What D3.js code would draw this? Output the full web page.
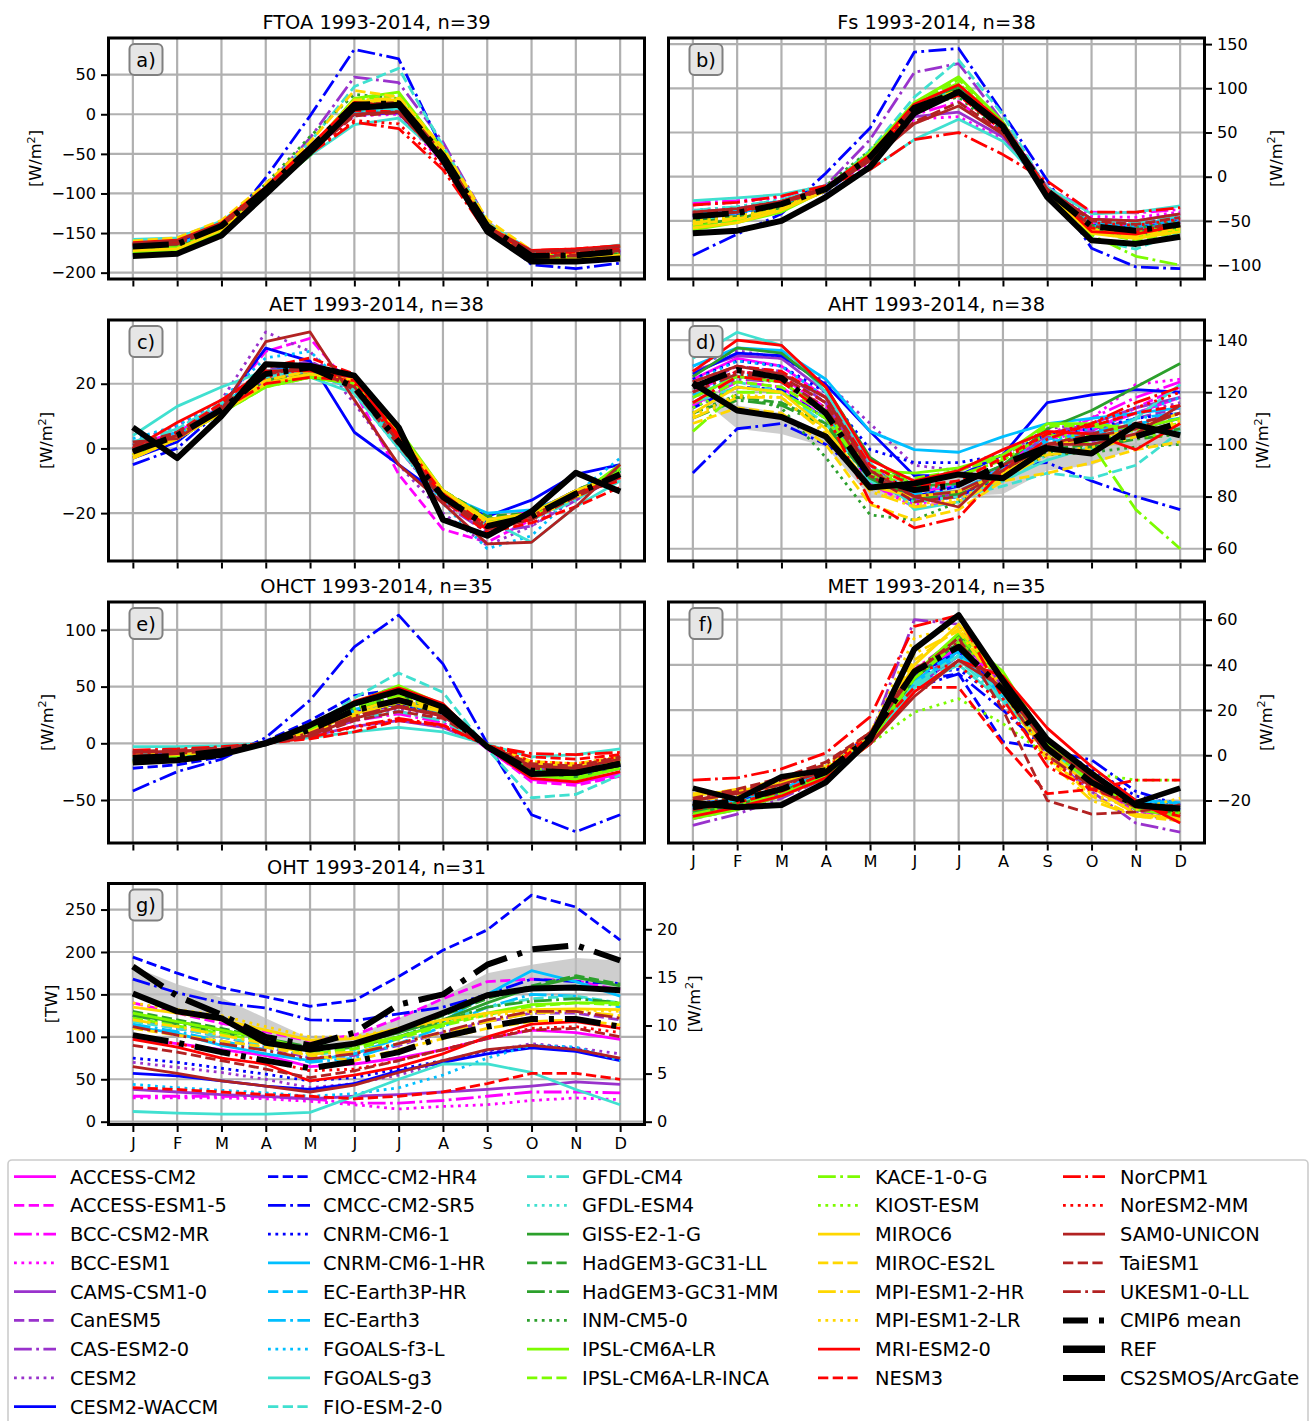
<!DOCTYPE html>
<html>
<head>
<meta charset="utf-8">
<script src="https://cdn.jsdelivr.net/npm/d3@7"></script>
<style>
  body { margin: 0; background: #fff; }
  svg { display: block; font-family: "DejaVu Sans", sans-serif; }
</style>
</head>
<body>
<svg id="fig" width="1312" height="1421"></svg>
<script>
// ---------------------------------------------------------------------------
// Data: Arctic energy-budget seasonal cycles, 1993-2014 climatology
// ---------------------------------------------------------------------------
const months = ["J","F","M","A","M","J","J","A","S","O","N","D"];

const models = [
  "ACCESS-CM2","ACCESS-ESM1-5","BCC-CSM2-MR","BCC-ESM1",
  "CAMS-CSM1-0","CanESM5","CAS-ESM2-0","CESM2",
  "CESM2-WACCM","CMCC-CM2-HR4","CMCC-CM2-SR5","CNRM-CM6-1",
  "CNRM-CM6-1-HR","EC-Earth3P-HR","EC-Earth3","FGOALS-f3-L",
  "FGOALS-g3","FIO-ESM-2-0","GFDL-CM4","GFDL-ESM4",
  "GISS-E2-1-G","HadGEM3-GC31-LL","HadGEM3-GC31-MM","INM-CM5-0",
  "IPSL-CM6A-LR","IPSL-CM6A-LR-INCA","KACE-1-0-G","KIOST-ESM",
  "MIROC6","MIROC-ES2L","MPI-ESM1-2-HR","MPI-ESM1-2-LR",
  "MRI-ESM2-0","NESM3","NorCPM1","NorESM2-MM",
  "SAM0-UNICON","TaiESM1","UKESM1-0-LL"
];
const extraLabels = ["CMIP6 mean", "REF", "CS2SMOS/ArcGate"];

// Net TOA flux [W/m2], one row per model (null = not available)
const ftoa = [
  [-165,-162,-140,-97,-47,2,5,-58,-145,-178,-177,-172],
  [-163,-160,-138,-95,-45,8,10,-52,-140,-176,-176,-170],
  [-168,-165,-142,-98,-48,0,2,-60,-146,-180,-180,-174],
  [-166,-163,-141,-97,-47,-2,0,-62,-147,-179,-178,-173],
  [-170,-167,-145,-100,-50,5,8,-55,-143,-182,-181,-176],
  [-164,-161,-139,-94,-42,15,18,-48,-138,-177,-176,-171],
  [-172,-168,-143,-92,-30,47,40,-35,-135,-183,-183,-178],
  [-165,-162,-140,-95,-44,10,12,-50,-140,-178,-177,-172],
  [-166,-163,-141,-96,-46,0,2,-58,-144,-179,-178,-173],
  [-170,-167,-145,-98,-48,3,6,-55,-142,-182,-182,-177],
  [-178,-176,-150,-80,-2,82,70,-45,-140,-190,-195,-188],
  [-167,-164,-141,-96,-44,5,8,-55,-143,-180,-180,-174],
  [-168,-165,-142,-97,-46,3,6,-56,-144,-181,-180,-175],
  [-163,-160,-137,-94,-44,8,10,-52,-140,-176,-175,-169],
  [-164,-161,-138,-95,-45,6,8,-54,-141,-177,-176,-170],
  [-162,-159,-137,-93,-42,10,12,-50,-139,-175,-174,-168],
  [-158,-156,-135,-95,-52,-13,-5,-55,-138,-172,-172,-165],
  [-166,-163,-140,-92,-35,35,58,-40,-136,-179,-180,-173],
  [-160,-157,-136,-93,-43,5,8,-52,-139,-174,-173,-167],
  [-161,-158,-137,-94,-44,3,6,-54,-140,-175,-174,-168],
  [-172,-169,-146,-100,-52,10,15,-50,-142,-183,-183,-178],
  [-170,-167,-144,-97,-47,12,16,-50,-141,-182,-181,-176],
  [-169,-166,-143,-96,-46,14,18,-48,-140,-181,-180,-175],
  [-166,-163,-138,-88,-28,25,20,-50,-142,-180,-180,-174],
  [-175,-172,-148,-99,-45,20,28,-45,-141,-184,-185,-180],
  [-174,-171,-147,-98,-44,18,24,-46,-141,-184,-184,-179],
  [-170,-168,-145,-97,-46,15,20,-48,-141,-182,-182,-177],
  [-165,-162,-140,-95,-45,12,15,-50,-140,-178,-178,-172],
  [-172,-170,-146,-98,-45,16,18,-48,-140,-183,-183,-178],
  [-160,-156,-134,-88,-35,30,22,-42,-133,-172,-172,-166],
  [-165,-162,-139,-94,-43,18,20,-47,-138,-178,-177,-172],
  [-164,-161,-138,-93,-42,16,18,-48,-137,-177,-176,-171],
  [-162,-159,-137,-92,-40,15,10,-55,-142,-172,-170,-166],
  [-166,-163,-140,-96,-46,5,3,-58,-145,-175,-174,-170],
  [-164,-161,-140,-98,-50,-10,-18,-70,-150,-172,-170,-166],
  [-165,-162,-141,-97,-48,-8,-12,-65,-148,-176,-175,-170],
  [-163,-160,-138,-95,-47,0,3,-56,-143,-173,-172,-167],
  [-164,-161,-139,-96,-48,-2,2,-58,-145,-178,-178,-172],
  [-167,-164,-141,-96,-46,12,15,-50,-141,-180,-179,-174]
];
const ftoaMean = [-167,-164,-141,-95,-43,12,14,-52,-141,-179,-178,-173];
const ftoaRef  = [-179,-176,-153,-101,-48,8,12,-58,-148,-186,-186,-182];

// Net surface flux [W/m2]
const fs = [
  [-40,-36,-28,-14,22,75,98,55,-18,-52,-55,-48],
  [-42,-38,-30,-15,20,78,100,56,-17,-54,-57,-50],
  [-30,-27,-22,-10,18,70,85,48,-12,-40,-41,-37],
  [-32,-29,-23,-12,15,65,68,42,-15,-45,-46,-40],
  [-45,-40,-30,-14,20,68,73,45,-15,-48,-50,-42],
  [-48,-43,-33,-16,22,80,102,57,-18,-58,-62,-55],
  [-50,-45,-35,-10,42,118,128,62,-12,-60,-64,-56],
  [-44,-40,-30,-14,25,82,98,56,-17,-55,-58,-50],
  [-46,-41,-31,-15,24,80,96,55,-16,-57,-60,-52],
  [-50,-44,-34,-17,20,76,93,52,-18,-62,-66,-58],
  [-89,-65,-42,4,55,141,145,72,-4,-81,-102,-104],
  [-44,-40,-30,-14,22,78,95,54,-16,-55,-58,-50],
  [-45,-41,-31,-15,23,79,96,55,-17,-56,-59,-51],
  [-40,-36,-27,-12,25,82,100,57,-15,-52,-55,-46],
  [-42,-38,-28,-13,24,80,98,56,-16,-54,-56,-48],
  [-38,-34,-26,-12,26,84,99,57,-15,-50,-53,-44],
  [-27,-24,-20,-10,8,42,65,40,-12,-42,-40,-33],
  [-50,-46,-36,-14,30,90,132,70,-15,-70,-82,-62],
  [-38,-34,-26,-12,20,80,98,56,-14,-50,-52,-44],
  null,
  [-55,-48,-35,-15,25,82,103,60,-18,-60,-64,-58],
  [-52,-46,-36,-16,22,78,96,56,-18,-60,-63,-55],
  [-50,-45,-35,-15,24,80,100,57,-17,-58,-62,-54],
  [-44,-40,-30,-10,30,80,90,50,-18,-55,-58,-50],
  [-60,-52,-40,-15,28,84,113,62,-20,-62,-68,-60],
  [-58,-50,-38,-14,27,82,110,60,-19,-62,-72,-62],
  [-56,-50,-38,-14,26,82,106,58,-18,-66,-90,-100],
  [-50,-45,-34,-15,24,78,98,56,-17,-58,-62,-55],
  [-58,-52,-38,-16,22,78,96,56,-19,-64,-70,-62],
  [-54,-48,-36,-15,24,80,98,57,-18,-60,-66,-58],
  [-52,-47,-36,-16,22,78,94,55,-18,-62,-68,-60],
  [-50,-45,-34,-15,23,78,95,55,-17,-60,-65,-57],
  [-45,-40,-28,-12,25,82,104,60,-14,-62,-65,-55],
  [-42,-38,-30,-14,20,76,92,52,-16,-58,-62,-52],
  [-32,-29,-22,-10,8,42,50,25,-5,-40,-40,-35],
  [-40,-36,-28,-13,22,78,94,55,-15,-52,-55,-48],
  [-40,-36,-28,-14,18,60,80,48,-14,-48,-50,-42],
  [-42,-38,-28,-13,20,62,84,50,-15,-50,-54,-46],
  [-44,-40,-30,-14,22,78,96,56,-17,-56,-60,-52]
];
const fsMean = [-45,-41,-31,-14,22,78,96,55,-16,-56,-61,-54];
const fsRef  = [-64,-61,-50,-23,11,72,96,57,-23,-72,-76,-68];

// Atmospheric energy tendency [W/m2]
const aet = [
  [1,5,13,23,24,18,2,-15,-24,-20,-14,-8],
  [0,4,13,30,34,18,-8,-25,-29,-22,-14,-8],
  [-1,4,12,22,24,20,3,-14,-23,-19,-14,-9],
  [0,5,13,22,25,19,2,-16,-25,-21,-15,-9],
  [-2,3,11,21,24,20,4,-13,-22,-21,-15,-9],
  [-1,4,13,24,27,20,2,-16,-24,-22,-15,-8],
  [-1,4,12,22,25,18,0,-17,-26,-24,-16,-8],
  [2,7,15,36,30,14,-5,-20,-30,-24,-14,-6],
  [-3,2,13,31,27,5,-5,-15,-21,-16,-8,-5],
  [-3,3,12,23,25,19,3,-15,-24,-21,-14,-8],
  [-5,0,12,24,25,20,4,-14,-23,-20,-13,-7],
  [-2,3,12,23,25,19,3,-14,-23,-20,-14,-8],
  [-1,4,13,24,25,19,3,-14,-20,-19,-14,-7],
  [0,5,13,23,24,19,3,-15,-22,-20,-14,-7],
  [1,5,14,23,24,18,2,-15,-23,-21,-14,-7],
  [3,7,15,28,30,17,0,-17,-31,-27,-14,-3],
  [4,13,19,24,22,17,0,-16,-22,-29,-18,-10],
  [1,6,14,23,24,18,1,-16,-24,-22,-15,-8],
  [2,6,14,22,24,18,2,-15,-23,-22,-16,-7],
  null,
  [-2,3,11,20,22,20,5,-14,-22,-20,-14,-6],
  [-1,4,12,21,23,20,4,-13,-21,-20,-13,-7],
  [0,4,12,21,23,20,4,-13,-22,-20,-14,-7],
  [-1,4,12,21,23,20,3,-13,-22,-20,-14,-6],
  [-2,3,11,19,22,21,6,-13,-22,-21,-15,-5],
  [-2,3,11,19,22,20,5,-13,-22,-21,-15,-6],
  [-1,3,11,20,22,20,5,-14,-23,-21,-14,-7],
  [-2,4,12,20,23,20,4,-14,-23,-21,-14,-7],
  [-3,3,11,20,23,21,5,-13,-22,-20,-13,-8],
  [-2,3,12,21,24,21,5,-14,-23,-21,-14,-8],
  [-3,3,11,20,23,21,5,-14,-23,-22,-15,-9],
  [-2,4,12,21,24,20,4,-14,-23,-21,-14,-8],
  [0,8,15,24,24,22,3,-15,-25,-22,-14,-9],
  [0,5,14,25,28,23,3,-16,-26,-23,-18,-12],
  [-1,4,12,20,22,21,4,-14,-24,-22,-14,-10],
  [0,5,13,22,25,20,2,-16,-25,-21,-14,-9],
  [2,3,12,33,36,15,-5,-17,-29.5,-29,-18,-5],
  [1,5,13,23,26,18,1,-16,-25,-22,-15,-9],
  [0,4,12,23,25,19,2,-15,-24,-21,-14,-8]
];
const aetMean = [-1,4,12,23,25,19,2,-15,-24,-21,-14,-8];
const aetRef  = [6.5,-3,10,26,25.5,22.5,6.5,-22,-27,-19.5,-7.5,-13.3];

// Atmospheric heat transport convergence [W/m2]
const aht = [
  [125,133,130,118,90,82,84,92,104,106,112,118],
  [120,128,126,114,88,80,82,90,102,105,114,122],
  [115,124,122,110,85,76,78,88,102,110,118,124],
  [118,126,124,112,86,77,80,90,104,110,123,125],
  [128,134,133,120,92,80,80,90,104,108,114,118],
  [122,130,128,116,89,79,81,90,103,105,110,114],
  [116,125,124,113,87,78,80,89,100,101,108,112],
  [130,136,133,124,108,92,90,96,106,108,112,116],
  [127,135,134,123,105,88,88,96,116,119,121,120],
  [114,122,121,110,86,78,80,88,100,102,106,110],
  [89,106,108,100,86,80,84,92,93,86,80,75],
  [125,132,130,120,98,93,93,96,104,106,110,112],
  [130,137,136,125,105,98,97,103,108,110,112,114],
  [118,126,124,112,87,80,82,90,101,103,108,110],
  [119,127,125,113,88,81,82,91,102,104,110,112],
  [124,132,130,118,90,83,84,92,104,106,112,118],
  [133,143,138,120,93,75,78,86,94,99,110,123],
  [120,124,120,110,86,78,80,84,89,87,92,105],
  [116,122,120,108,86,78,80,86,96,98,104,106],
  null,
  [126,137,135,122,95,84,85,92,106,113,122,131],
  [112,118,116,108,88,80,82,88,98,100,103,106],
  [110,117,115,107,87,79,81,88,97,99,102,104],
  [112,119,114,95,73,71,78,88,96,97,99,100],
  [118,126,124,113,90,89,91,96,108,108,106,110],
  [116,124,122,112,89,87,90,95,107,107,105,108],
  [105,120,120,110,88,85,88,94,104,100,75,60],
  [114,122,120,110,88,86,88,94,104,103,103,104],
  [112,122,120,106,84,80,82,89,100,102,106,112],
  [108,114,112,100,77,71,75,86,89,93,98,101],
  [110,118,118,104,82,76,78,87,96,98,103,108],
  [111,119,118,105,83,77,79,88,97,99,104,109],
  [128,140,138,122,94,86,90,98,105,104,98,108],
  [124,130,128,118,92,84,86,95,104,107,112,115],
  [116,126,124,112,78,68,72,90,102,108,116,122],
  [120,128,126,116,90,82,86,94,104,108,114,120],
  [124,130,127,118,90,80,76,92,100,100,104,115],
  [122,128,126,116,88,78,80,90,100,104,108,112],
  [120,127,125,114,88,80,82,90,100,103,106,112]
];
const ahtMean  = [122,128.5,125.5,112,87.5,82.5,84.5,92.5,99,102.5,103,108.5];
const ahtRef   = [123.5,113,110.5,103,83.5,85,88.5,87,98.5,96.5,107.5,103.5];
const ahtRefLo = [120,106,104,99,80,80,80,81,90,92,99,100];
const ahtRefHi = [125,115,112,104,86,87,90,90,101,104,109,107];

// Ocean heat content tendency [W/m2]
const ohct = [
  [-12,-10,-7,0,10,28,40,25,-5,-32,-35,-27],
  [-15,-12,-8,0,12,30,42,28,-4,-34,-37,-29],
  [-10,-8,-5,0,8,20,26,18,-3,-25,-28,-22],
  null,
  [-10,-8,-6,0,6,15,20,14,-2,-20,-22,-18],
  [-14,-11,-8,0,11,26,34,24,-4,-28,-30,-22],
  [-10,-8,-6,0,8,20,28,20,-3,-22,-24,-18],
  [-12,-10,-7,0,10,24,30,22,-3,-26,-28,-20],
  [-13,-10,-7,0,11,27,35,26,-4,-27,-28,-20],
  [-22,-19,-12,2,20,42,48,30,-4,-28,-30,-22],
  [-42,-25,-14,5,38,85,113,70,0,-63,-78,-63],
  [-15,-12,-8,0,12,29,37,27,-3,-25,-26,-20],
  [-14,-11,-8,0,12,30,38,28,-3,-26,-28,-20],
  [-13,-11,-7,0,11,28,36,26,-3,-24,-26,-18],
  [-14,-11,-8,0,12,29,37,27,-3,-25,-27,-19],
  null,
  [-3,-3,-2,0,5,10,14,10,-1,-12,-10,-5],
  [-18,-14,-9,0,14,40,62,45,-5,-48,-45,-28],
  [-10,-8,-6,0,9,22,28,20,-3,-20,-22,-16],
  null,
  [-16,-13,-9,0,14,34,46,32,-4,-28,-30,-22],
  [-15,-12,-8,0,12,32,42,30,-3,-24,-26,-18],
  [-14,-11,-8,0,11,30,40,28,-3,-23,-25,-17],
  null,
  [-18,-14,-9,0,15,36,51,34,-4,-28,-32,-22],
  [-17,-13,-9,0,14,35,48,33,-4,-27,-30,-21],
  [-15,-12,-8,0,12,31,42,30,-3,-25,-27,-19],
  [-12,-10,-7,0,10,25,34,25,-3,-22,-24,-17],
  [-12,-10,-7,0,10,26,36,28,-2,-18,-20,-14],
  [-10,-8,-6,0,9,24,38,30,-1,-16,-18,-12],
  [-12,-9,-7,0,10,28,40,30,-2,-20,-22,-15],
  [-11,-9,-6,0,9,27,38,29,-2,-19,-21,-14],
  [-17,-14,-9,0,15,37,49,35,-4,-31,-34,-25],
  [-8,-6,-4,0,4,10,20,16,-2,-12,-14,-10],
  [-6,-5,-3,0,5,15,22,16,-2,-9,-10,-8],
  [-9,-8,-5,0,6,14,21,15,-2,-16,-18,-12],
  [-8,-7,-5,0,7,22,32,24,-2,-20,-22,-14],
  [-7,-6,-4,0,6,20,28,22,-2,-18,-20,-12],
  [-11,-9,-6,0,9,24,33,25,-3,-22,-24,-17]
];
const ohctMean = [-13,-11,-7,0,12,29,38,28,-3,-24,-26,-18];
const ohctRef  = [-17,-15,-10,0,16,35,46,32,-3,-27,-26,-18];

// Melt energy tendency [W/m2]
const met = [
  [-26,-22,-17,-9,6,34,48,30,2,-14,-24,-27],
  [-25,-21,-16,-8,7,36,50,31,3,-13,-24,-26],
  [-24,-20,-15,-8,8,38,52,30,2,-14,-25,-26],
  null,
  [-27,-23,-17,-9,5,30,44,30,3,-12,-24,-27],
  [-28,-24,-18,-10,6,32,46,31,2,-14,-26,-29],
  [-31,-26,-19,-10,8,60,58,30,0,-16,-30,-34],
  [-26,-22,-16,-8,7,36,50,32,3,-13,-25,-28],
  [-23,-20,-15,-8,8,35,46,28,4,-10,-22,-24],
  [-22,-19,-14,-7,9,33,36,6,3,-8,-20,-24],
  [-24,-20,-15,-7,10,30,36,20,2,-2,-16,-22],
  [-21,-18,-14,-6,10,36,38,24,5,-6,-18,-22],
  [-23,-19,-15,-8,8,32,44,26,3,-10,-20,-21],
  [-22,-19,-15,-7,9,34,46,27,3,-10,-21,-22],
  [-23,-20,-15,-7,9,33,45,27,3,-11,-22,-23],
  null,
  [-24,-21,-16,-9,6,30,40,24,2,-12,-22,-24],
  [-25,-22,-16,-8,7,32,44,27,3,-12,-23,-25],
  [-24,-21,-16,-8,7,31,42,25,2,-12,-22,-24],
  null,
  [-25,-22,-16,-9,6,34,50,36,6,-10,-22,-26],
  [-26,-22,-17,-9,6,36,52,36,5,-11,-23,-26],
  [-25,-21,-16,-8,7,37,53,35,5,-11,-22,-25],
  null,
  [-28,-24,-18,-10,5,36,54,37,6,-10,-24,-27],
  [-27,-23,-17,-9,6,35,52,36,5,-11,-23,-26],
  [-26,-22,-17,-9,6,34,50,34,4,-12,-23,-25],
  [-22,-19,-13,-5,5,19,25,14,0,-8,-11,-11],
  [-17,-16,-12,-6,8,40,58,35,2,-14,-26,-28],
  [-20,-18,-13,-5,10,42,56,33,0,-18,-27,-29],
  [-18,-15,-11,-4,10,45,55,28,-2,-20,-27,-28],
  [-19,-17,-12,-5,9,52,57,30,-1,-17,-24,-19],
  [-27,-23,-18,-10,5,28,42,35,12,-5,-20,-30],
  [-24,-21,-16,-8,9,30,30,5,-17,-15,-22,-27],
  [-11,-10,-6,1,17,57,62,25,-5,-15,-11,-11],
  [-22,-19,-14,-6,10,38,40,22,-2,-14,-22,-26],
  [-20,-17,-13,-7,5,26,42,30,4,-10,-22,-24],
  [-19,-15,-10,-3,10,36,52,20,-20,-26,-25,-22],
  [-20,-16,-11,-4,10,38,50,28,0,-14,-23,-22]
];
const metMean = [-23,-20,-15,-7.5,8,37,48,29,3,-12,-22,-24];
const metRef  = [-21,-23,-22,-12,7,47,62,33,7,-8,-22,-23.5];
const metObs  = [-14.5,-19.5,-9.5,-6.5,null,null,null,null,null,null,-21,-14.5];

// Ocean heat transport into the Arctic [TW]
const oht = [
  [98,92,85,78,65,68,75,85,98,108,105,97],
  [140,128,116,106,95,102,122,145,165,168,166,155],
  [30,30,30,29,27,22,22,25,30,35,35,34],
  [28,28,28,27,24,20,15,18,20,25,28,26],
  [38,35,32,30,27,30,32,35,38,42,47,44],
  [120,110,100,88,75,78,90,105,118,128,128,120],
  null,
  [70,64,58,50,40,45,55,70,82,92,87,80],
  [57,54,48,42,38,45,60,70,80,87,83,72],
  [194,175,158,147,136,143,171,202,226,267,253,214],
  [168,152,140,134,120,119,127,135,150,168,165,163],
  [75,70,63,56,48,52,62,72,84,90,86,73],
  [112,104,90,80,72,80,98,118,150,178,165,148],
  null,
  [115,106,95,85,70,75,92,112,135,150,148,135],
  [44,40,37,34,30,33,40,55,75,90,88,72],
  [12,10,9,9,11,30,50,68,68,58,38,20],
  [118,110,100,90,78,85,100,118,135,145,148,140],
  null,
  null,
  [125,118,108,98,85,92,105,120,140,158,170,160],
  [130,120,110,98,88,92,105,125,145,160,172,162],
  [125,115,105,95,82,88,100,118,135,142,145,140],
  null,
  [128,118,108,98,85,90,100,115,128,138,140,140],
  [122,113,104,94,80,86,98,113,126,136,140,138],
  null,
  null,
  [135,128,120,108,96,98,110,120,128,132,133,132],
  [110,102,95,88,78,72,85,98,110,118,120,114],
  [120,112,102,92,80,82,92,105,118,128,130,125],
  [140,132,125,112,100,100,110,118,125,130,132,130],
  [97,88,75,68,48,55,65,80,100,115,118,110],
  [40,38,35,32,30,27,30,35,45,57,57,50],
  null,
  [100,92,82,72,60,62,72,85,98,110,112,105],
  [65,57,48,42,35,43,58,72,85,90,85,75],
  [90,82,72,62,52,60,72,85,98,108,110,100],
  [112,102,92,84,74,80,92,106,120,130,130,122]
];
const ohtMean    = [102,93,82,72,63,71,82,100,112,121,121,112];
const ohtMeanAlt = [183,148,126,100,90,105,138,150,185,203,208,190];
const ohtRef     = [151,130,122,93,85,92,108,128,149,157,158,155];
const ohtRefHi   = [183,162,146,122,98,102,122,147,175,185,193,190];
const twPerWm2   = 11.34;   // TW corresponding to 1 W/m2 over the domain

// ---------------------------------------------------------------------------
// Styling
// ---------------------------------------------------------------------------
const palette = ["#ff00ff","#9932cc","#0000ff","#00bfff","#40e0d0",
                 "#2ca02c","#7cfc00","#ffd700","#ff0000","#b22222"];
const modelLW = 2.8;
const dashes = ["", "10.3,4.4", "17.8,4.4,2.8,4.4", "2.8,4.6"];
const meanDash = "36,11,5,11";
const styleOf = i => ({ color: palette[Math.floor(i / 4)], dash: dashes[i % 4] });

const FONT = "DejaVu Sans, sans-serif";
const boxW = 536, boxH = 241;
const colX = [108.5, 668.5];
const rowY = [38, 320, 602, 883.5];

const svg = d3.select("#fig");
svg.append("rect").attr("width", 1312).attr("height", 1421).attr("fill", "#fff");

const panels = [
  { key: "a", name: "FTOA", rows: ftoa, mean: ftoaMean, ref: ftoaRef,
    col: 0, row: 0, domain: [-208, 96.3], ticks: [-200,-150,-100,-50,0,50], side: "left", labelX: 35.5 },
  { key: "b", name: "Fs", rows: fs, mean: fsMean, ref: fsRef,
    col: 1, row: 0, domain: [-115.7, 156.9], ticks: [-100,-50,0,50,100,150], side: "right", labelX: 1276 },
  { key: "c", name: "AET", rows: aet, mean: aetMean, ref: aetRef,
    col: 0, row: 1, domain: [-34.8, 39.7], ticks: [-20,0,20], side: "left", labelX: 46.5 },
  { key: "d", name: "AHT", rows: aht, mean: ahtMean, ref: ahtRef, band: [ahtRefLo, ahtRefHi],
    col: 1, row: 1, domain: [55.3, 147.7], ticks: [60,80,100,120,140], side: "right", labelX: 1262.5 },
  { key: "e", name: "OHCT", rows: ohct, mean: ohctMean, ref: ohctRef,
    col: 0, row: 2, domain: [-87.9, 124.6], ticks: [-50,0,50,100], side: "left", labelX: 47 },
  { key: "f", name: "MET", rows: met, mean: metMean, ref: metRef, obs: metObs,
    col: 1, row: 2, domain: [-38.8, 67.8], ticks: [-20,0,20,40,60], side: "right", labelX: 1266, monthLabels: true },
  { key: "g", name: "OHT", rows: oht, mean: ohtMean, meanAlt: ohtMeanAlt, ref: ohtRef, band: [ohtRef, ohtRefHi],
    col: 0, row: 3, domain: [-3.3, 280.7], ticks: [0,50,100,150,200,250], side: "left", labelX: 51.5,
    unit: "TW", monthLabels: true, rightTicks: [0,5,10,15,20], rightLabelX: 694 }
];

function unitLabel(sel, unit) {
  if (unit === "TW") { sel.text("[TW]"); return; }
  sel.append("tspan").text("[W/m");
  sel.append("tspan").attr("font-size", 11.3).attr("dy", -6.5).text("2");
  sel.append("tspan").attr("font-size", 16.2).attr("dy", 6.5).text("]");
}

function styleAxis(g) {
  g.attr("font-family", FONT).attr("font-size", 16.2);
  g.select(".domain").remove();
  g.selectAll(".tick line").attr("stroke", "#000").attr("stroke-width", 2);
  g.selectAll(".tick text").attr("fill", "#000");
}

panels.forEach(p => {
  const x0 = colX[p.col], y0 = rowY[p.row];
  const x = d3.scaleLinear().domain([-0.55, 11.55]).range([x0, x0 + boxW]);
  const y = d3.scaleLinear().domain(p.domain).range([y0 + boxH, y0]);
  const g = svg.append("g");

  const clipId = "clip-" + p.key;
  g.append("clipPath").attr("id", clipId)
    .append("rect").attr("x", x0).attr("y", y0).attr("width", boxW).attr("height", boxH);
  const plot = g.append("g").attr("clip-path", `url(#${clipId})`);

  // grid
  plot.selectAll(".gx").data(d3.range(12)).join("line")
    .attr("x1", d => x(d)).attr("x2", d => x(d)).attr("y1", y0).attr("y2", y0 + boxH)
    .attr("stroke", "#b0b0b0").attr("stroke-width", 2.2);
  plot.selectAll(".gy").data(p.ticks).join("line")
    .attr("x1", x0).attr("x2", x0 + boxW).attr("y1", d => y(d)).attr("y2", d => y(d))
    .attr("stroke", "#b0b0b0").attr("stroke-width", 2.2);

  // reference spread
  if (p.band) {
    const area = d3.area().x((d, i) => x(i)).y0((d, i) => y(p.band[0][i])).y1(d => y(d));
    plot.append("path").datum(p.band[1]).attr("d", area)
      .attr("fill", "#bdbdbd").attr("fill-opacity", 0.75);
  }

  const line = d3.line().defined(d => d != null).x((d, i) => x(i)).y(d => y(d));

  // individual models
  p.rows.forEach((r, i) => {
    if (!r) return;
    const s = styleOf(i);
    plot.append("path").datum(r).attr("d", line)
      .attr("fill", "none").attr("stroke", s.color).attr("stroke-width", modelLW)
      .attr("stroke-dasharray", s.dash || null).attr("stroke-linejoin", "round");
  });

  // ensemble mean and observational references
  const black = (data, w, dash) => plot.append("path").datum(data).attr("d", line)
    .attr("fill", "none").attr("stroke", "#000").attr("stroke-width", w)
    .attr("stroke-dasharray", dash || null).attr("stroke-linejoin", "round");
  if (p.meanAlt) black(p.meanAlt, 6, meanDash);
  black(p.ref, 6);
  if (p.obs) black(p.obs, 5.5);
  black(p.mean, 6, meanDash);

  // frame
  g.append("rect").attr("x", x0).attr("y", y0).attr("width", boxW).attr("height", boxH)
    .attr("fill", "none").attr("stroke", "#000").attr("stroke-width", 3);

  // x axis
  const xa = g.append("g").attr("transform", `translate(0,${y0 + boxH + 1.5})`)
    .call(d3.axisBottom(x).tickValues(d3.range(12)).tickSize(6).tickPadding(5)
      .tickFormat(i => p.monthLabels ? months[i] : ""));
  styleAxis(xa);

  // y axis
  if (p.side === "left") {
    const ya = g.append("g").attr("transform", `translate(${x0 - 1.5},0)`)
      .call(d3.axisLeft(y).tickValues(p.ticks).tickSize(6).tickPadding(5).tickFormat(d3.format("d")));
    styleAxis(ya);
  } else {
    const ya = g.append("g").attr("transform", `translate(${x0 + boxW + 1.5},0)`)
      .call(d3.axisRight(y).tickValues(p.ticks).tickSize(6).tickPadding(5).tickFormat(d3.format("d")));
    styleAxis(ya);
  }
  const yl = g.append("text")
    .attr("transform", `translate(${p.labelX},${y0 + boxH / 2}) rotate(-90)`)
    .attr("text-anchor", "middle").attr("dy", "0.35em")
    .attr("font-family", FONT).attr("font-size", 16.2).attr("fill", "#000");
  unitLabel(yl, p.unit);

  // secondary flux axis for ocean heat transport
  if (p.rightTicks) {
    const yr = d3.scaleLinear().domain(p.domain.map(v => v / twPerWm2)).range([y0 + boxH, y0]);
    const ra = g.append("g").attr("transform", `translate(${x0 + boxW + 1.5},0)`)
      .call(d3.axisRight(yr).tickValues(p.rightTicks).tickSize(6).tickPadding(5).tickFormat(d3.format("d")));
    styleAxis(ra);
    const rl = g.append("text")
      .attr("transform", `translate(${p.rightLabelX},${y0 + boxH / 2}) rotate(-90)`)
      .attr("text-anchor", "middle").attr("dy", "0.35em")
      .attr("font-family", FONT).attr("font-size", 16.2).attr("fill", "#000");
    unitLabel(rl, "W");
  }

  // title with model count
  const n = p.rows.filter(r => r).length;
  g.append("text").attr("x", x0 + boxW / 2).attr("y", y0 - 9.5)
    .attr("text-anchor", "middle").attr("font-family", FONT).attr("font-size", 19.4)
    .attr("fill", "#000").text(`${p.name} 1993-2014, n=${n}`);

  // panel letter
  g.append("rect").attr("x", x0 + 21).attr("y", y0 + 6).attr("width", 33).attr("height", 31)
    .attr("rx", 5).attr("fill", "#e6e6e6").attr("stroke", "#808080").attr("stroke-width", 2);
  g.append("text").attr("x", x0 + 37.5).attr("y", y0 + 28.5).attr("text-anchor", "middle")
    .attr("font-family", FONT).attr("font-size", 19.4).attr("fill", "#000").text(p.key + ")");
});

// ---------------------------------------------------------------------------
// Legend
// ---------------------------------------------------------------------------
const legend = svg.append("g");
legend.append("rect").attr("x", 8).attr("y", 1160).attr("width", 1300).attr("height", 290)
  .attr("rx", 4).attr("fill", "#fff").attr("stroke", "#cccccc").attr("stroke-width", 1.6);

const entries = models.map((m, i) => ({ label: m, ...styleOf(i), w: modelLW }))
  .concat([
    { label: extraLabels[0], color: "#000", dash: meanDash, w: 6, offset: 11 },
    { label: extraLabels[1], color: "#000", dash: "", w: 7.5 },
    { label: extraLabels[2], color: "#000", dash: "", w: 6 }
  ]);
const colStarts = [0, 9, 18, 26, 34, 42];
const handleX = [14, 268, 527, 818, 1063];
const textX = [70, 323, 582, 875, 1120];
const rowStep = 28.75, rowTop = 1176.7;

entries.forEach((e, k) => {
  const c = d3.bisectRight(colStarts, k) - 1;
  const r = k - colStarts[c];
  const yy = rowTop + r * rowStep;
  legend.append("line").attr("x1", handleX[c]).attr("x2", handleX[c] + 42)
    .attr("y1", yy).attr("y2", yy)
    .attr("stroke", e.color).attr("stroke-width", e.w)
    .attr("stroke-dasharray", e.dash || null)
    .attr("stroke-dashoffset", e.offset || 0);
  legend.append("text").attr("x", textX[c]).attr("y", yy + 7)
    .attr("font-family", FONT).attr("font-size", 19.4).attr("fill", "#000").text(e.label);
});
</script>
</body>
</html>
